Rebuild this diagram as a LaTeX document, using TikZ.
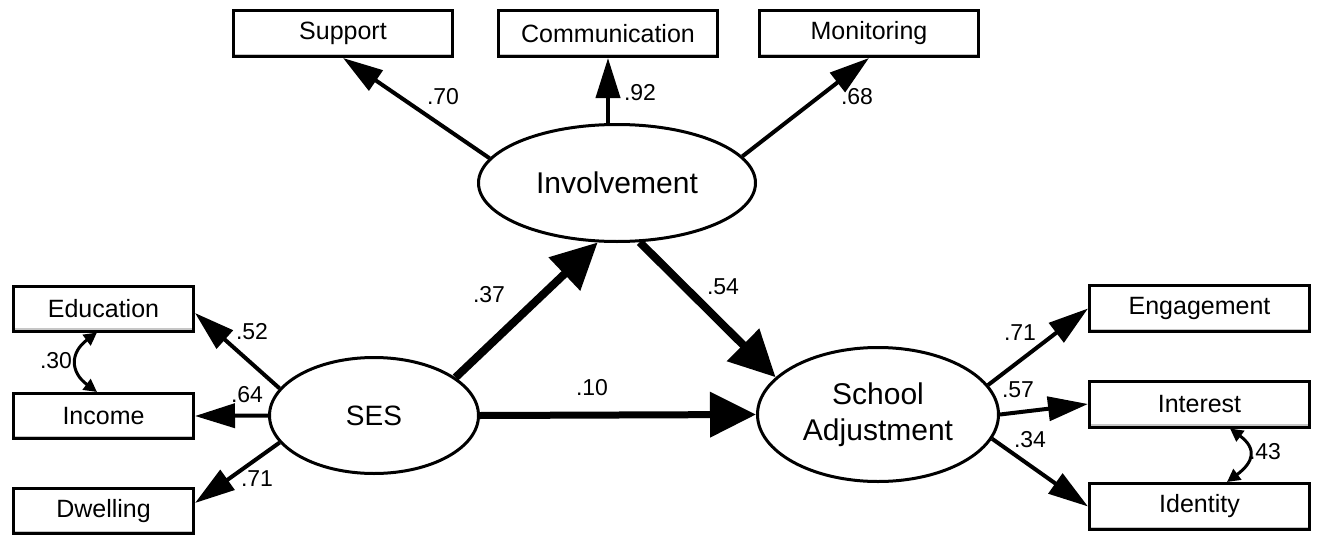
\documentclass[tikz,border=0pt]{standalone}
\usepackage{fontspec}
\setmainfont{Liberation Sans}
\usetikzlibrary{shapes.geometric,arrows.meta}
\begin{document}
\begin{tikzpicture}[x=1pt,y=-1pt,
  obs/.style={draw, line width=3pt, fill=white, inner sep=0pt,
              font=\fontsize{25}{29}\selectfont},
  topbox/.style={obs, minimum width=219pt, minimum height=46pt},
  leftbox/.style={obs, minimum width=180pt, minimum height=45pt},
  rightbox/.style={obs, minimum width=220pt, minimum height=46pt},
  latent/.style={draw, ellipse, line width=3pt, inner sep=0pt,
                 font=\fontsize{30}{36}\selectfont, align=center},
  coef/.style={font=\fontsize{23}{27}\selectfont, inner sep=0pt},
  load/.style={line width=4pt, -{Triangle[length=40pt,width=24pt]}},
  path/.style={line width=8pt, -{Triangle[length=46pt,width=44pt]}},
  cov/.style={line width=3pt, {Triangle[length=13pt,width=13pt]}-{Triangle[length=13pt,width=13pt]}},
  shade/.style={gray!45, line width=1.5pt}
]
\useasboundingbox[fill=white] (0,0) rectangle (1326,538);

% observed indicators
\node[topbox] (sup) at (343,33.5) {Support};
\node[topbox] (com) at (608,33.5) {Communication};
\node[topbox] (mon) at (869,33.5) {Monitoring};

\node[leftbox] (edu) at (103.5,308.5) {Education};
\node[leftbox] (inc) at (103.5,416) {Income};
\node[leftbox] (dwe) at (103.5,511) {Dwelling};

\node[rightbox] (eng) at (1199.5,308.5) {Engagement};
\node[rightbox] (int) at (1199.5,404) {Interest};
\node[rightbox] (ide) at (1199.5,506.5) {Identity};

% thin shading along the lower edge of each box
\foreach \b in {sup,com,mon,edu,inc,dwe,eng,int,ide}
  \draw[shade] ([shift={(3pt,3.5pt)}]\b.south west) -- ([shift={(-3pt,3.5pt)}]\b.south east);

% latent variables
\node[latent, minimum width=277pt, minimum height=117pt] (inv) at (617,183) {Involvement};
\node[latent, minimum width=209pt, minimum height=116pt,
      font=\fontsize{28}{34}\selectfont] (ses) at (374,415.5) {SES};
\node[latent, minimum width=241pt, minimum height=134pt] (sa) at (878,414.5) {School\\Adjustment};

% measurement paths
\draw[load] (inv.169) -- (sup.south);
\draw[load] (inv.north -| com.south) -- (com.south);
\draw[load] (inv.12) -- (mon.south);

\draw[load] (ses.164) -- ([yshift=-4.5pt]edu.east);
\draw[load] (ses.west) -- (inc.east);
\draw[load] (ses.196) -- ([yshift=8pt]dwe.east);

\draw[load] (sa.15) -- (eng.west);
\draw[load] (sa.east) -- (int.west);
\draw[load] (sa.348) -- (ide.west);

% structural paths
\draw[path] (ses.25) -- (inv.252);
\draw[path] (inv.291) -- (sa.160);
\draw[path, line width=7pt] (ses.east) -- (sa.west);

% residual covariances
\draw[cov] ([xshift=-6.5pt]edu.south) .. controls +(-27,20) and +(-27,-20) .. ([xshift=-6.5pt]inc.north);
\draw[cov] ([xshift=30.5pt]int.south) .. controls +(27,20) and +(27,-20) .. ([xshift=27.5pt]ide.north);

% coefficients
\node[coef] (c70) at (443,97) {.70};
\node[coef] (c92) at (640,93) {.92};
\node[coef] (c68) at (857,97) {.68};
\node[coef] (c37) at (489,295) {.37};
\node[coef] (c54) at (723,287) {.54};
\node[coef] (c10) at (592,388) {.10};
\node[coef] (c52) at (252,332) {.52};
\node[coef] (c64) at (247,395) {.64};
\node[coef] (c71a) at (257,479) {.71};
\node[coef] (c30) at (56,361) {.30};
\node[coef] (c71b) at (1020,333) {.71};
\node[coef] (c57) at (1018,390) {.57};
\node[coef] (c34) at (1030,440) {.34};
\node[coef] (c43) at (1265,452) {.43};
\end{tikzpicture}
\end{document}
